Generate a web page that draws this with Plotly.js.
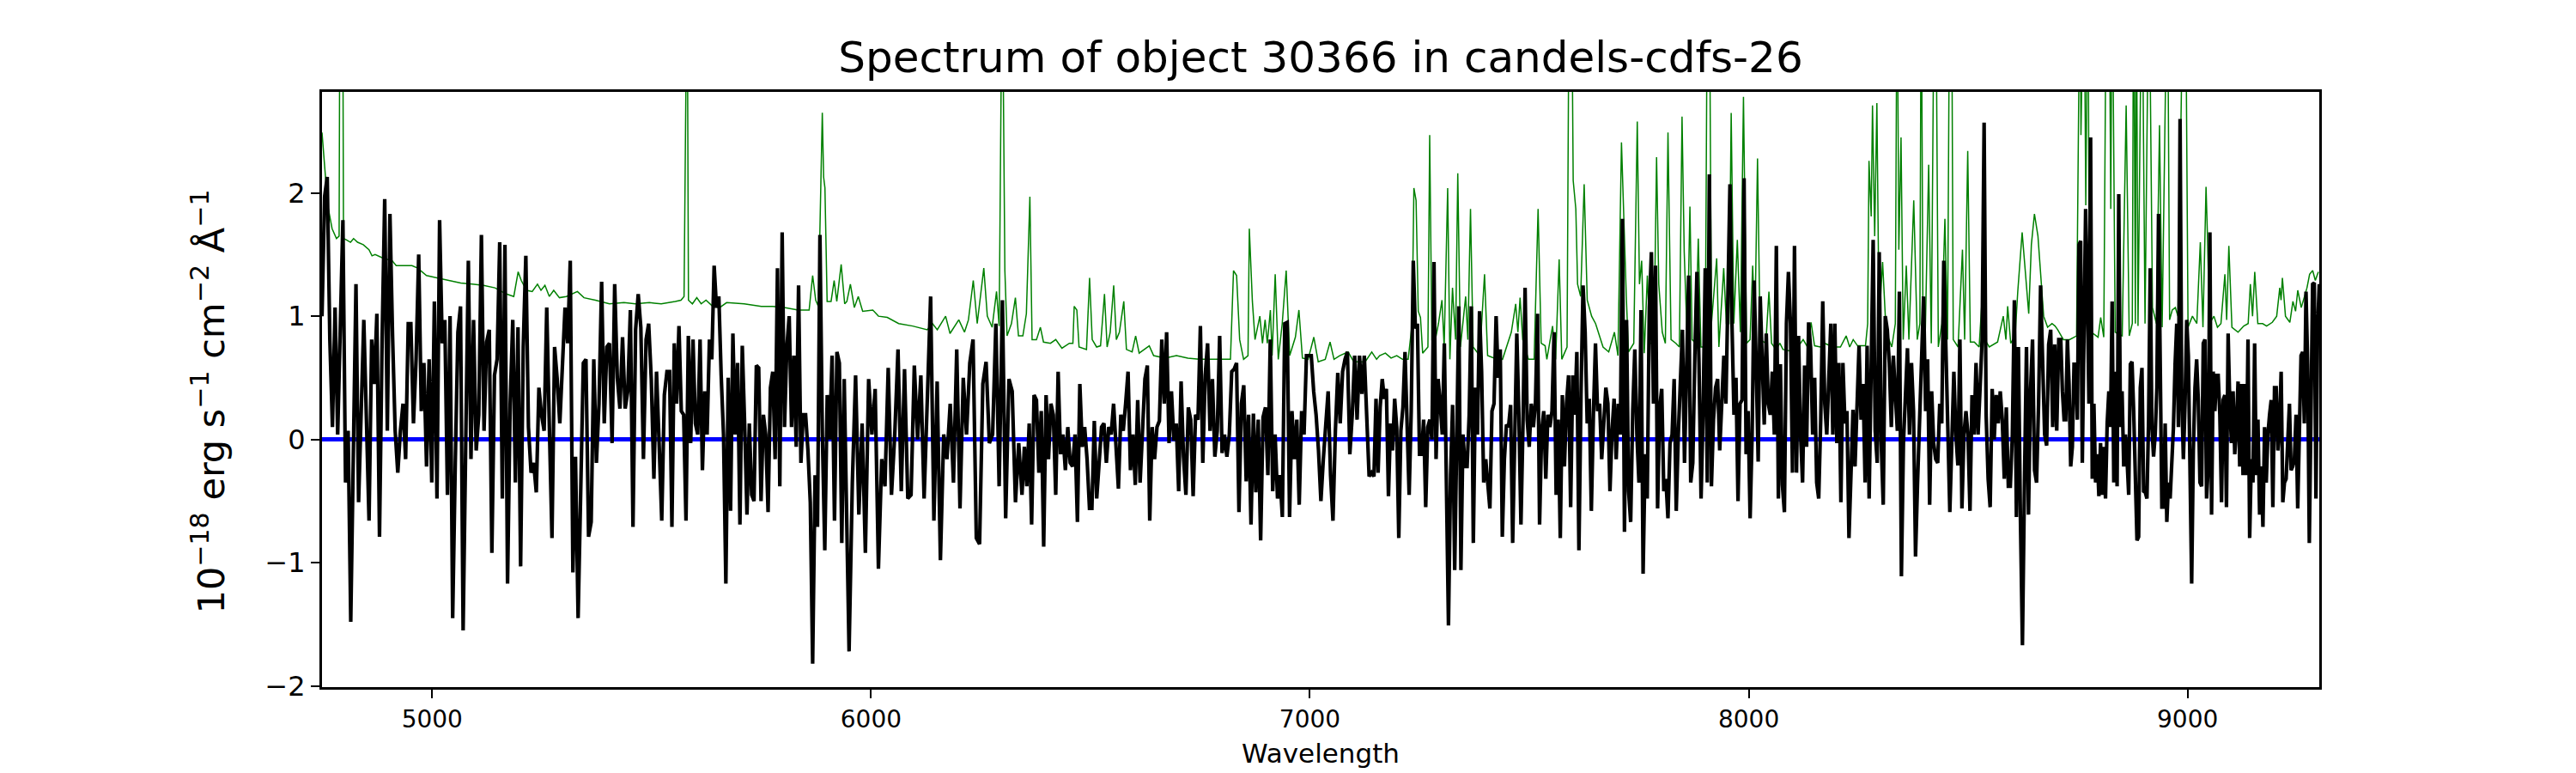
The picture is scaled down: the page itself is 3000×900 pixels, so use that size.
<!DOCTYPE html>
<html><head><meta charset="utf-8">
<script src="https://cdn.plot.ly/plotly-3.0.1.min.js"></script>
<style>html,body{margin:0;padding:0;background:#fff}#chart{width:3000px;height:900px}</style>
</head><body><div id="chart"></div>
<script>
const fluxSeg1 = [1.0,1.97,2.13,0.81,0.1,1.07,0.04,1.07,1.78,-0.35,
0.07,-1.48,0.07,1.26,-0.51,0.13,0.97,0.16,-0.66,0.81,
0.45,1.02,-0.79,0.81,1.95,0.07,1.83,0.84,0.07,-0.27,
0.07,0.29,-0.16,0.94,0.94,0.13,0.65,1.5,0.23,0.62,
-0.22,0.65,-0.35,1.12,-0.48,1.78,0.78,0.97,-0.45,1.0,
-1.45,-0.19,0.87,1.08,-1.55,-0.03,1.45,-0.16,0.97,-0.09,
0.2,1.66,0.07,0.79,0.89,-0.92,0.52,0.65,1.6,-0.48,
1.58,-1.17,0.29,0.97,-0.35,0.91,-1.03,0.75,1.49,0.1,
-0.27,-0.19,-0.43,0.42,0.2,0.07,1.07,0.1,-0.8,0.75,
0.49,0.13,0.65,1.07,0.78,1.45,-1.08,-0.14,-1.45,-0.35,
0.62,0.65,-0.79,-0.67,0.65,-0.19,0.29,1.28,0.13,0.75,
0.78,-0.03,1.26,0.5,0.25,0.83,0.25,0.39,1.05,-0.71,
0.89,1.18,0.91,-0.16,0.81,0.94,0.49,-0.32,0.55,-0.03,
-0.66,0.36,0.55];
const fluxSeg2 = [0.55,-0.71,0.78,0.29,0.92,0.23,0.2,-0.66,0.84,-0.03,
0.81,0.13,0.04,0.81,-0.25,0.39,0.04,0.81,0.65,1.41,
1.07,1.16,0.52,0.04,-1.17,0.5,-0.58,0.86,0.04,0.62,
-0.69,0.76,0.13,-0.61,0.13,-0.45,-0.5,0.6,0.58,-0.5,
0.2,0.04,-0.59,0.42,0.55,-0.16,1.39,-0.38,1.68,0.1,
0.75,1.0,0.1,0.68,-0.06,1.25,-0.19,0.2,0.2,-0.09,
-0.51,-1.82,-0.29,-0.71,1.66,0.04,-0.9,0.36,0.0,0.68,
-0.66,0.71,0.62,-0.84,0.49,-0.74,-1.72,-0.35,0.52,-0.61,
0.13,-0.92,0.49,0.04,0.41,-1.05,-0.16,-0.38,0.58,-0.45,
0.04,0.73,-0.42,0.57,-0.48,-0.45,0.6,0.0,0.52,-0.48,
0.29,1.16,-0.66,0.47,-0.98,0.04,-0.16,0.29,-0.35,0.73,
-0.56,0.5,0.04,0.62,0.81,-0.8,-0.85,0.45,0.63,-0.03,
0.04,0.94,-0.38,1.13,-0.64,0.49,0.39,-0.51,-0.03];
const fluxSeg3 = [-0.45,-0.06,-0.38,0.13,-0.69,0.36,0.32,-0.27,0.23,-0.87,
0.36,-0.16,0.29,0.2,-0.45,0.55,-0.12,0.04,-0.25,0.1,
-0.19,-0.22,0.04,-0.67,0.45,-0.06,0.1,-0.16,-0.56,-0.56,
0.15,-0.48,-0.16,0.1,0.13,-0.19,0.1,0.04,0.29,-0.09,
-0.4,0.2,0.07,0.29,0.55,-0.25,0.04,-0.37,0.32,-0.35,
0.16,0.49,0.6,-0.66,0.1,-0.16,0.1,0.15,0.81,0.29,
0.87,-0.03,0.39,-0.01,0.13,-0.42,0.47,-0.14,-0.45,0.26,
0.16,-0.46,0.2,0.16,0.92,-0.19,0.52,0.78,0.07,0.49,
-0.14,0.07,0.84,-0.11,0.04,-0.14,0.04,0.55,0.57,0.62,
-0.59,0.29,0.44,-0.34,0.2,-0.69,0.21,-0.43,0.16,-0.82,
0.18,0.26,-0.29,0.81,-0.42,0.04,-0.48,-0.29,-0.63,0.94,
0.95,-0.63,0.23,-0.16,0.16,-0.53,0.23,0.04,0.68,0.68,
0.68,0.39,0.2,-0.09,-0.5,-0.16,0.12,0.39,-0.29,-0.66,
0.07,0.54,0.13,0.55,0.65,0.71,-0.12,0.2,0.68,0.16,
0.68,0.37,0.68,0.13,-0.3,-0.27];
const fluxSeg4 = [-0.3,0.33,-0.27,0.26,0.49,0.33,0.41,-0.46,0.13,-0.09,
0.33,0.1,-0.8,0.07,0.26,0.71,0.13,-0.45,0.23,1.45,
0.9,0.94,-0.12,-0.12,0.16,-0.55,0.1,0.16,0.0,1.44,
-0.16,0.49,0.29,0.04,0.78,-0.35,-1.51,-0.29,0.28,-1.06,
0.04,1.08,-1.06,0.04,-0.22,-0.22,0.2,1.08,-0.84,0.42,
0.04,1.04,0.55,-0.35,-0.16,-0.35,-0.56,0.23,0.29,1.0,
0.5,0.73,-0.79,-0.16,0.12,0.1,0.28,-0.84,-0.03,0.86,
0.2,-0.69,0.13,1.23,0.16,-0.06,0.29,0.1,0.29,1.02,
-0.69,0.07,0.23,-0.32,0.2,0.1,0.23,0.87,-0.45,0.16,
-0.8,0.36,-0.22,0.29,0.52,-0.55,0.52,0.2,0.71,-0.9,
0.36,1.25,0.87,0.13,0.33,-0.58,0.2,0.78,0.23,0.29,
-0.16,0.2,0.42,0.29,-0.42,0.07,0.33,-0.16,0.29,0.04,
1.79,-0.75,0.97,-0.42,-0.67,0.23,0.73,0.04,-0.35,1.05,
-1.09,-0.12,-0.48,1.07,1.52,0.29,1.41,-0.56,0.26,0.41,
-0.42,-0.32,-0.64,-0.03,0.04,0.49,-0.58,0.04,0.52,0.89,
-0.19,0.45,1.33,-0.35,-0.19,0.68,1.36,0.62,-0.48,0.23,
1.39,-0.35,2.15,-0.38,0.16,0.42,0.49,-0.09,0.36,0.68];
const fluxSeg5 = [0.29,1.39,2.07,0.94,0.2,0.5,-0.5,0.29,0.32,2.12,
-0.12,0.23,-0.64,0.04,1.29,0.61,-0.18,1.16,0.52,0.12,
0.86,0.29,0.2,0.55,0.04,1.57,-0.48,0.61,-0.37,-0.59,
0.94,1.36,0.94,-0.27,1.57,-0.27,0.84,0.04,-0.35,0.6,
-0.06,0.95,0.74,0.04,0.5,-0.35,-0.48,0.16,1.12,0.29,
0.04,0.42,0.94,0.04,0.94,-0.03,0.62,-0.51,0.62,0.13,
0.23,-0.8,-0.22,0.24,-0.22,0.2,0.76,0.16,0.45,-0.35,
0.76,-0.48,0.81,1.62,0.07,-0.19,1.52,-0.03,-0.53,1.0,
0.89,0.62,0.1,0.68,0.36,0.07,1.2,-1.11,-0.03,0.36,
0.74,0.04,0.62,0.23,-0.95,-0.35,0.29,0.65,1.16,0.23,
0.65,-0.53,0.39,-0.03,-0.16,-0.19,0.29,0.13,1.45,0.62,
0.1,-0.59,-0.03,0.55,0.04,-0.21,0.81,-0.56,0.04,0.23,
0.04,-0.58,0.36,0.04,0.62,0.04,0.42,0.81,2.57,0.2,
-0.32,-0.55,0.41,0.0,0.36,0.13,0.39,0.16,-0.32,0.26,
-0.38,-0.38,0.04,1.13,-0.63,0.75,-0.64,-1.67,-0.35,0.75,
-0.61,0.39,0.81,-0.25,-0.35,0.29,1.25,0.62,0.04,-0.05,
0.77,0.89,0.1,0.77,0.07,0.81];
const fluxSeg6 = [0.81,0.39,0.16,0.16,0.81,0.45,-0.22,-0.06,0.61,0.61,
0.16,1.58,1.61,-0.19,0.81,1.87,1.19,0.29,2.45,-0.32,
0.29,-0.35,-0.12,-0.46,-0.03,-0.45,-0.06,-0.48,0.13,0.39,
0.1,1.12,-0.35,0.55,-0.38,1.99,0.1,0.39,-0.22,0.04,
-0.16,-0.45,0.61,0.63,0.23,-0.38,-0.82,-0.79,0.42,0.58,
-0.42,-0.43,-0.48,0.16,1.39,0.1,-0.14,0.04,0.42,1.83,
0.61,-0.55,-0.55,0.13,-0.67,-0.35,-0.48,-0.16,0.1,0.61,
0.94,0.1,2.6,0.36,-0.16,0.29,0.97,0.68,-0.35,-1.17,
-0.09,0.42,0.65,0.32,-0.35,-0.38,0.78,0.81,-0.48,-0.22,
1.68,-0.61,0.55,0.23,0.52,0.52,0.2,-0.51,0.32,0.36,
-0.55,0.86,0.29,-0.03,0.39,-0.12,0.1,0.47,-0.22,0.45,
-0.29,0.45,-0.29,0.81,-0.8,-0.16,-0.35,0.78,-0.29,0.16,
-0.61,-0.22,-0.71,0.1,-0.35,0.04,0.2,0.32,-0.55,0.42,
0.42,-0.09,0.1,0.55,-0.51,-0.35,-0.32,0.04,0.29,-0.25,
-0.22,-0.16,0.2,-0.56,0.07,0.68,0.71,0.13,1.2,0.61,
-0.84,0.39,1.26,1.27,-0.48,0.9,1.26];

// Wavelengths (Angstrom) read for landmark samples of the flux (sample number in the joined list -> wavelength)
const anchorIndex = [0, 133, 194, 209, 262, 408, 578, 744, 900];
const anchorWave = [4749, 5541, 5867, 5950, 6344, 7146, 7948, 8711, 9300];

// Noise / sky spectrum (green): wavelengths and values (4 = off the top)
const noiseWave = [4749,4755,4762,4772,4782,4788,4790,4796,4798,4804,4814,4821,4830,4843,4856,4863,4870,4889,4909,4918,
4935,4954,4967,4987,5013,5039,5065,5091,5117,5143,5169,5186,5196,5203,5215,5228,5240,5248,5257,5267,
5277,5290,5306,5331,5346,5372,5404,5437,5463,5495,5522,5554,5567,5574,5577,5581,5584,5593,5603,5613,
5624,5639,5655,5671,5711,5750,5776,5802,5834,5859,5867,5874,5880,5889,5892,5895,5900,5909,5916,5922,
5932,5940,5945,5953,5962,5971,5981,6004,6017,6037,6063,6095,6128,6140,6151,6170,6180,6200,6213,6222,
6233,6242,6257,6265,6276,6286,6292,6296,6299,6305,6310,6320,6329,6336,6346,6354,6362,6367,6377,6386,
6393,6409,6421,6435,6452,6460,6463,6469,6474,6491,6498,6504,6514,6523,6532,6538,6545,6553,6559,6566,
6576,6582,6595,6603,6611,6634,6644,6670,6696,6722,6748,6787,6819,6826,6833,6840,6849,6859,6862,6869,
6875,6886,6892,6898,6903,6910,6914,6921,6928,6937,6946,6954,6967,6975,6983,6996,7009,7019,7035,7046,
7055,7068,7087,7100,7126,7141,7152,7159,7172,7185,7198,7211,7224,7233,7237,7242,7247,7252,7257,7269,
7273,7278,7286,7293,7301,7306,7314,7319,7325,7332,7337,7343,7355,7360,7366,7372,7387,7398,7405,7420,
7439,7459,7469,7474,7479,7485,7498,7511,7520,7527,7536,7540,7553,7560,7568,7574,7586,7591,7596,7600,
7606,7610,7617,7625,7632,7642,7651,7668,7681,7694,7702,7710,7715,7721,7726,7738,7746,7751,7756,7762,
7769,7775,7784,7790,7795,7803,7810,7816,7823,7834,7842,7848,7853,7860,7866,7871,7879,7885,7891,7901,
7906,7910,7915,7927,7932,7943,7949,7955,7960,7966,7974,7981,7988,7995,8003,8009,8014,8020,8026,8039,
8046,8052,8062,8071,8078,8104,8124,8134,8142,8150,8163,8173,8192,8209,8222,8230,8238,8248,8266,8271,
8274,8279,8282,8287,8292,8297,8305,8313,8326,8334,8338,8342,8347,8352,8359,8365,8376,8384,8390,8393,
8397,8402,8410,8416,8423,8426,8432,8440,8447,8453,8458,8462,8466,8477,8487,8492,8499,8505,8514,8525,
8532,8538,8548,8567,8580,8586,8590,8597,8607,8613,8623,8633,8638,8644,8651,8659,8665,8672,8681,8691,
8698,8704,8717,8731,8747,8751,8755,8757,8760,8764,8768,8773,8776,8781,8796,8802,8809,8815,8821,8825,
8828,8835,8851,8860,8867,8874,8877,8881,8883,8887,8896,8903,8912,8920,8929,8936,8942,8949,8954,8959,
8965,8972,8978,8991,8995,9001,9011,9021,9029,9035,9042,9045,9050,9060,9068,9076,9085,9089,9094,9101,
9115,9128,9138,9143,9148,9153,9160,9171,9180,9193,9203,9210,9213,9216,9223,9233,9240,9246,9251,9259,
9272,9278,9285,9291,9298];
const noiseFlux = [2.49,2.23,1.9,1.71,1.63,1.65,4,4,1.63,1.62,1.6,1.63,1.6,1.58,1.54,1.49,1.5,1.47,1.45,1.41,
1.41,1.41,1.39,1.33,1.31,1.29,1.27,1.26,1.25,1.23,1.18,1.16,1.36,1.29,1.21,1.2,1.26,1.21,1.25,1.16,
1.21,1.15,1.16,1.2,1.15,1.13,1.1,1.11,1.1,1.11,1.1,1.12,1.13,1.16,4,4,1.13,1.1,1.15,1.1,
1.13,1.08,1.07,1.11,1.1,1.08,1.08,1.07,1.05,1.05,1.33,1.13,1.08,2.65,2.13,2.04,1.12,1.12,1.29,1.12,
1.42,1.1,1.12,1.26,1.07,1.16,1.04,1.05,1.0,0.99,0.94,0.92,0.89,0.94,0.89,1.0,0.86,0.97,0.87,0.97,
1.29,0.94,1.39,1.0,0.91,1.2,0.92,4,4,1.37,0.84,0.94,1.15,0.84,0.84,1.02,1.97,0.81,0.81,0.91,
0.79,0.78,0.81,0.74,0.78,0.78,1.08,1.05,0.75,0.73,1.31,0.81,0.75,0.76,1.18,0.75,0.87,1.25,0.81,0.87,
1.12,0.73,0.71,0.84,0.7,0.76,0.68,0.66,0.68,0.66,0.65,0.65,0.65,1.37,1.33,0.81,0.65,0.68,1.71,1.12,
0.81,1.0,0.78,0.97,0.78,1.05,0.68,1.34,0.65,0.94,1.37,0.68,0.83,1.05,0.66,0.65,0.83,0.63,0.65,0.79,
0.65,0.68,0.71,0.63,0.63,0.71,0.65,0.68,0.7,0.66,0.68,0.65,0.65,0.94,2.04,1.94,1.04,0.99,0.7,0.75,
2.47,0.81,0.81,0.94,1.13,0.75,2.04,0.65,1.23,0.81,2.16,0.75,1.16,0.81,1.87,0.75,0.68,1.34,0.68,0.66,
0.65,0.87,1.1,0.87,1.15,0.81,0.65,0.65,1.87,0.78,0.76,0.65,0.92,0.65,1.46,0.65,0.75,4,4,2.1,
1.87,1.26,1.16,2.07,1.13,1.0,0.94,0.75,0.71,0.87,0.68,2.41,1.81,1.16,0.71,0.78,2.58,1.26,1.45,0.7,
1.33,0.78,0.78,2.29,1.26,0.87,0.78,2.49,0.81,0.78,0.75,2.62,1.52,0.78,1.89,0.81,0.78,1.63,0.75,0.75,
4,4,0.94,1.47,0.75,1.39,0.94,0.94,2.65,0.94,1.62,0.87,2.78,0.78,0.81,1.41,0.91,2.28,0.81,0.78,
1.2,0.78,0.73,0.78,0.73,0.71,0.81,0.75,0.95,0.76,0.75,0.78,0.75,0.75,0.84,0.75,0.81,0.76,0.76,0.94,
2.26,1.81,2.71,1.65,2.73,0.94,1.44,0.87,0.75,0.94,4,1.54,2.45,0.81,1.41,0.81,1.94,0.81,0.94,4,
0.94,0.81,2.23,0.78,4,4,0.75,0.94,1.79,0.81,4,4,0.81,0.75,1.54,0.81,2.34,0.79,0.79,0.75,
1.16,0.81,0.75,0.79,1.0,0.81,1.08,0.78,0.84,1.2,1.68,1.2,1.02,1.58,1.83,1.65,1.36,1.0,0.91,0.94,
0.92,0.89,0.81,0.81,0.84,4,4,2.47,4,4,1.9,4,1.07,0.87,0.83,0.99,0.83,4,4,1.87,
4,0.87,0.84,2.71,0.84,0.94,4,0.94,4,0.92,4,0.94,4,1.07,0.94,2.55,0.91,4,4,0.97,
1.05,1.07,1.0,4,4,0.91,1.0,0.94,1.6,0.91,2.05,1.68,0.94,1.0,0.91,0.94,1.34,0.97,1.57,0.91,
0.87,0.92,0.94,1.26,1.0,1.36,0.94,0.94,0.92,0.95,1.0,1.23,1.13,1.31,1.0,0.95,1.12,1.04,1.21,1.07,
1.23,1.34,1.37,1.29,1.36];

const xRange = [4749, 9300];
const yRange = [-2.01, 2.82];
const xTickVals = [5000, 6000, 7000, 8000, 9000];
const yTickVals = [-2, -1, 0, 1, 2];
const titleText = 'Spectrum of object 30366 in candels-cdfs-26';
const xLabel = 'Wavelength';
const yLabel = '10<sup>\u221218</sup> erg s<sup>\u22121</sup> cm<sup>\u22122</sup> \u00c5<sup>\u22121</sup>';

// Join the flux stretches and give each sample its wavelength from the landmark table
const flux = [].concat(fluxSeg1, fluxSeg2, fluxSeg3, fluxSeg4, fluxSeg5, fluxSeg6);
const wave = flux.map((v, i) => {
  let k = 0;
  while (k < anchorIndex.length - 2 && i >= anchorIndex[k + 1]) k++;
  const i0 = anchorIndex[k], i1 = anchorIndex[k + 1];
  return anchorWave[k] + (anchorWave[k + 1] - anchorWave[k]) * (i - i0) / (i1 - i0);
});

const font = 'DejaVu Sans, Liberation Sans, sans-serif';
const traces = [
  {x: xRange, y: [0, 0], mode: 'lines', line: {color: '#0000ff', width: 5}, hoverinfo: 'skip'},
  {x: noiseWave, y: noiseFlux, mode: 'lines', line: {color: '#008000', width: 1.5}},
  {x: wave, y: flux, mode: 'lines', line: {color: '#000000', width: 4.2}}
];
const layout = {
  width: 3000, height: 900,
  paper_bgcolor: '#ffffff', plot_bgcolor: '#ffffff',
  showlegend: false,
  margin: {l: 375, r: 299, t: 107, b: 100, pad: 0},
  title: {text: titleText, font: {family: font, size: 50, color: '#000'},
          x: 0.5, xref: 'paper', y: 1 - 66 / 900, yref: 'container', yanchor: 'middle'},
  xaxis: {range: xRange, tickvals: xTickVals, ticktext: xTickVals.map(String),
          ticks: 'outside', ticklen: 10, tickwidth: 2, tickcolor: '#000',
          showline: true, mirror: true, linecolor: '#000', linewidth: 3,
          showgrid: false, zeroline: false,
          tickfont: {family: font, size: 28, color: '#000'},
          title: {text: xLabel, font: {family: font, size: 31, color: '#000'}, standoff: 14}},
  yaxis: {range: yRange, tickvals: yTickVals,
          ticks: 'outside', ticklen: 10, tickwidth: 2, tickcolor: '#000',
          showline: true, mirror: true, linecolor: '#000', linewidth: 3,
          showgrid: false, zeroline: false,
          tickfont: {family: font, size: 32, color: '#000'}},
  annotations: [{text: yLabel, textangle: -90, showarrow: false,
                 xref: 'paper', yref: 'paper', x: -0.0567, y: 0.48,
                 xanchor: 'center', yanchor: 'middle',
                 font: {family: font, size: 43, color: '#000'}}]
};
Plotly.newPlot('chart', traces, layout, {staticPlot: true, displayModeBar: false});
</script>
</body></html>
